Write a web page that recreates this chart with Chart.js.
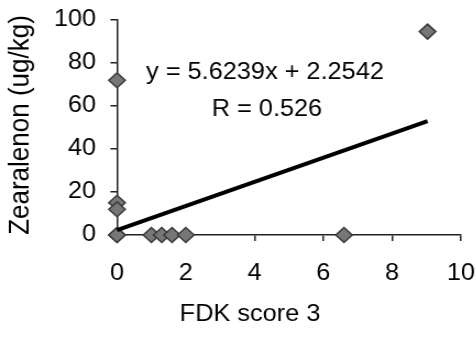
<!DOCTYPE html>
<html>
<head>
<meta charset="utf-8">
<script src="https://cdn.jsdelivr.net/npm/chart.js@4.4.1/dist/chart.umd.min.js"></script>
<style>
  html, body { margin: 0; padding: 0; background: #fff; overflow: hidden; }
  #wrap { width: 433px; height: 338px; transform: scaleX(1.1); transform-origin: 0 0; }
</style>
</head>
<body>
<div id="wrap"><canvas id="chart"></canvas></div>
<script>
// scatter points
const fdkScore = [0, 0, 0, 0, 0, 1, 1.3, 1.6, 2, 6.6, 9.03];
const zearalenon = [0, 72, 15, 12, 0, 0, 0, 0, 0, 0, 94.6];

// trend line end points
const trendX = [0, 9.03];
const trendY = [2.25, 53.0];

const xTicks = [0, 2, 4, 6, 8, 10];
const yTicks = [0, 20, 40, 60, 80, 100];

const equationText = "y = 5.6239x + 2.2542";
const rText = "R = 0.526";
const xTitle = "FDK score 3";
const yTitle = "Zearalenon (ug/kg)";

const STRETCH = 1.1;
const FONT = '"Liberation Sans", Arial, sans-serif';

const textPlugin = {
    id: "textPlugin",
    afterDraw(chart) {
        const ctx = chart.ctx;
        ctx.save();
        ctx.fillStyle = "#000";
        ctx.textAlign = "center";
        ctx.textBaseline = "middle";
        ctx.font = "23px " + FONT;
        ctx.fillText(equationText, 265 / STRETCH, 73);
        ctx.fillText(rText, 267 / STRETCH, 110);
        ctx.fillText(xTitle, 250 / STRETCH, 315);
        // y axis title is a little bigger in the original
        ctx.font = "26px " + FONT;
        ctx.translate(21 / STRETCH, 125);
        ctx.rotate(-Math.PI / 2);
        ctx.fillText(yTitle, 0, 0);
        ctx.restore();
    },
};

const points = fdkScore.map((x, i) => ({ x: x, y: zearalenon[i] }));
const trend = trendX.map((x, i) => ({ x: x, y: trendY[i] }));

const axisColor = "#222";

new Chart(document.getElementById("chart").getContext("2d"), {
    type: "scatter",
    data: {
        datasets: [
            {
                data: trend,
                showLine: true,
                borderColor: "#000",
                borderWidth: 4,
                pointRadius: 0,
                clip: false,
                order: 0,
            },
            {
                data: points,
                pointStyle: "rectRot",
                pointRadius: 7.5,
                pointBackgroundColor: "#777777",
                pointBorderColor: "#3a3a3a",
                pointBorderWidth: 1.5,
                clip: false,
                order: 1,
            },
        ],
    },
    options: {
        responsive: true,
        maintainAspectRatio: false,
        animation: false,
        layout: { padding: { top: 20, right: 14, left: 0, bottom: 0 } },
        plugins: {
            legend: { display: false },
            tooltip: { enabled: false },
        },
        scales: {
            x: {
                type: "linear",
                min: 0,
                max: 10,
                afterBuildTicks: (scale) => {
                    scale.ticks = xTicks.map((v) => ({ value: v }));
                },
                afterFit: (scale) => {
                    scale.height = 103;
                    scale.paddingLeft = 0;
                    scale.paddingRight = 0;
                },
                ticks: {
                    color: "#000",
                    font: { family: FONT, size: 23 },
                    padding: 19,
                    maxRotation: 0,
                },
                grid: {
                    drawOnChartArea: false,
                    drawTicks: true,
                    tickLength: 6,
                    color: axisColor,
                    lineWidth: 1.5,
                },
                border: { display: true, color: axisColor, width: 1.5 },
            },
            y: {
                type: "linear",
                min: 0,
                max: 100,
                afterBuildTicks: (scale) => {
                    scale.ticks = yTicks.map((v) => ({ value: v }));
                },
                afterFit: (scale) => {
                    scale.width = 117 / STRETCH;
                    scale.paddingTop = 0;
                    scale.paddingBottom = 0;
                },
                ticks: {
                    color: "#000",
                    font: { family: FONT, size: 23 },
                    padding: 13,
                },
                grid: {
                    drawOnChartArea: false,
                    drawTicks: true,
                    tickLength: 6,
                    color: axisColor,
                    lineWidth: 1.5,
                },
                border: { display: true, color: axisColor, width: 1.5 },
            },
        },
    },
    plugins: [textPlugin],
});
</script>
</body>
</html>
